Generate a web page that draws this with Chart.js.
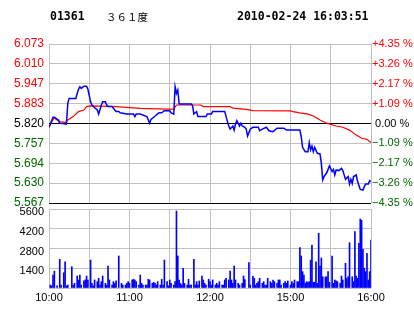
<!DOCTYPE html>
<html>
<head>
<meta charset="utf-8">
<script src="https://cdn.jsdelivr.net/npm/chart.js@4.4.0/dist/chart.umd.min.js"></script>
<style>
  html, body { margin: 0; padding: 0; background: #fff; }
  #wrap { position: relative; width: 414px; height: 314px; overflow: hidden; background: #fff; }
  canvas { position: absolute; left: 0; top: 0; }
  .t { position: absolute; top: 9px; line-height: 14px; white-space: pre; color: #000; }
  .mono { font-family: "DejaVu Sans Mono", monospace; font-weight: bold; font-size: 11.5px; }
  .cjk { font-family: "Noto Sans CJK SC", sans-serif; font-size: 10.5px; top: 10px; }
</style>
</head>
<body>
<div id="wrap">
  <canvas id="vol" width="414" height="314"></canvas>
  <canvas id="price" width="414" height="314"></canvas>
  <div class="t mono" id="code" style="left:50px"></div>
  <div class="t cjk" id="name" style="left:106px"></div>
  <div class="t mono" id="stamp" style="left:237px"></div>
</div>
<script>
// ---- header texts ----
const stockCode = '01361';
const stockName = '３６１度';
const timeStamp = '2010-02-24 16:03:51';

// ---- price series (minute index from 10:00, trading minutes) ----
const priceMinutes = [0,3,4,7,8,13,14,15,20,21,22,23,24,26,28,29,31,32,33,36,37,39,40,42,43,44,47,49,50,52,53,58,63,64,65,68,73,75,76,78,80,82,84,86,90,91,93,94,95,96,97,106,107,108,110,111,117,118,121,122,131,132,133,134,135,137,138,139,140,142,143,144,146,147,148,150,152,156,157,159,162,164,167,170,175,177,187,188,189,191,193,194,195,196,197,198,200,202,203,204,205,207,209,211,212,213,214,216,218,219,221,223,224,225,226,227,229,230,232,234,235,236,238,239,240];
const prices = [5.808,5.840,5.840,5.831,5.821,5.818,5.884,5.900,5.900,5.916,5.929,5.937,5.932,5.939,5.939,5.929,5.889,5.879,5.874,5.863,5.850,5.879,5.889,5.889,5.879,5.874,5.874,5.863,5.858,5.858,5.854,5.850,5.850,5.842,5.850,5.850,5.842,5.821,5.833,5.840,5.847,5.854,5.854,5.861,5.861,5.854,5.850,5.937,5.916,5.927,5.882,5.882,5.877,5.850,5.858,5.842,5.842,5.850,5.850,5.858,5.858,5.842,5.826,5.812,5.802,5.812,5.799,5.818,5.829,5.812,5.821,5.812,5.808,5.802,5.780,5.802,5.808,5.808,5.797,5.802,5.808,5.797,5.794,5.805,5.805,5.799,5.799,5.778,5.744,5.730,5.730,5.759,5.736,5.748,5.730,5.744,5.725,5.723,5.693,5.640,5.651,5.663,5.685,5.667,5.674,5.656,5.672,5.670,5.677,5.670,5.642,5.651,5.627,5.642,5.629,5.651,5.656,5.635,5.610,5.608,5.619,5.627,5.627,5.638,5.635];

// ---- average price series ----
const avgMinutes = [0,3,4,8,12,14,18,22,26,28,31,50,68,88,93,95,113,115,135,137,147,152,180,182,187,193,197,202,207,214,219,224,229,233,237,240];
const avgPrices = [5.808,5.833,5.837,5.826,5.823,5.831,5.842,5.858,5.863,5.874,5.876,5.874,5.868,5.866,5.866,5.879,5.879,5.874,5.874,5.869,5.865,5.861,5.860,5.858,5.854,5.850,5.844,5.831,5.821,5.812,5.808,5.799,5.783,5.773,5.770,5.759];

// ---- volume series ----
const volMinutes = [1,2,3,4,6,8,9,11,12,13,14,17,18,19,21,22,23,24,26,27,28,29,31,32,33,34,36,37,38,39,40,42,43,44,45,47,48,49,50,52,54,55,57,58,59,60,62,63,64,65,67,68,69,70,72,73,74,75,77,78,79,80,81,83,84,85,86,88,89,90,91,93,94,95,96,97,98,99,100,101,103,104,105,106,108,109,110,111,112,114,115,116,117,119,120,121,122,124,125,126,127,129,130,131,132,134,135,136,137,138,139,141,142,144,145,146,149,150,152,153,154,155,156,157,159,160,161,162,163,165,166,167,168,170,171,172,173,175,176,177,178,180,181,182,183,185,186,187,188,189,190,191,192,193,194,195,196,197,198,199,200,201,202,203,204,206,207,208,209,211,212,213,214,215,217,218,219,221,222,223,224,226,227,228,229,230,231,232,233,234,235,236,237,238,239,240];
const volumes = [210,150,920,1200,150,2030,210,1080,1860,150,210,1510,210,330,850,570,920,210,500,570,850,570,1980,330,150,570,450,690,210,450,850,330,210,1560,570,210,450,330,500,2270,330,210,210,330,450,330,570,620,570,450,210,920,330,210,210,210,620,570,330,400,330,210,450,210,620,210,1980,450,150,570,330,210,450,5460,2270,570,330,210,1400,330,210,620,210,210,2030,210,450,210,500,850,570,330,210,620,450,210,570,210,330,210,450,210,210,570,690,570,1200,570,330,1560,570,330,210,330,850,600,1800,210,850,690,210,330,450,690,330,450,210,210,690,450,330,570,450,330,570,570,210,330,450,330,500,210,450,330,570,450,450,2860,2270,1160,920,330,450,400,450,1980,3050,400,400,1860,330,3880,1560,2130,800,780,800,1160,400,2270,330,570,500,450,330,850,570,1750,690,800,3210,800,450,4000,850,690,3170,4890,4800,2740,1400,1160,2460,570,1160,3400];

// ---- axis tick labels ----
const prevClose = 5.82;
const priceTickValues = [6.0732,6.0099,5.9466,5.8833,5.82,5.7567,5.6934,5.6301,5.5668];
const priceTickLabels = ['6.073','6.010','5.947','5.883','5.820','5.757','5.694','5.630','5.567'];
const pctTickValues = [4.35,3.2625,2.175,1.0875,0,-1.0875,-2.175,-3.2625,-4.35];
const pctTickLabels = ['+4.35 %','+3.26 %','+2.17 %','+1.09 %',' 0.00 %','\u22121.09 %','\u22122.17 %','\u22123.26 %','\u22124.35 %'];
const volTickValues = [0,1400,2800,4200,5600];
const volTickLabels = ['','1400','2800','4200','5600'];
const timeTickValues = [0,30,60,90,120,150,180,210,240];
const timeTickLabels = ['10:00','','11:00','','12:00','','15:00','','16:00'];

document.getElementById('code').textContent = stockCode;
document.getElementById('name').textContent = stockName;
document.getElementById('stamp').textContent = timeStamp;

const RED = '#ff0000', GREEN = '#006600', BLACK = '#000000', GRID = '#c0c0c0';
const sideColor = (i) => i < 4 ? RED : (i === 4 ? BLACK : GREEN);

const fixTicks = (vals) => (scale) => { scale.ticks = vals.map(v => ({ value: v })); };

new Chart(document.getElementById('price'), {
  type: 'line',
  data: {
    datasets: [
      { data: avgMinutes.map((m, i) => ({ x: m, y: avgPrices[i] })), borderColor: RED, borderWidth: 1.2, pointRadius: 0, tension: 0, yAxisID: 'y', order: 2 },
      { data: priceMinutes.map((m, i) => ({ x: m, y: prices[i] })), borderColor: '#0000ff', borderWidth: 1.5, pointRadius: 0, tension: 0, yAxisID: 'y', order: 1 }
    ]
  },
  options: {
    responsive: false, animation: false, devicePixelRatio: 1,
    layout: { padding: { top: 44, bottom: 111, left: 0, right: 0 } },
    plugins: { legend: { display: false }, tooltip: { enabled: false } },
    scales: {
      x: {
        type: 'linear', min: 0, max: 240, offset: false,
        afterBuildTicks: fixTicks(timeTickValues),
        afterFit: (s) => { s.height = 0; },
        ticks: { display: false },
        grid: { color: GRID, drawTicks: false, offset: false },
        border: { display: false }
      },
      y: {
        position: 'left', min: priceTickValues[8], max: priceTickValues[0],
        afterBuildTicks: fixTicks(priceTickValues),
        afterFit: (s) => { s.width = 49; },
        ticks: {
          padding: 5,
          font: { family: '"Liberation Sans", Arial, sans-serif', size: 12 },
          color: (c) => sideColor(c.index),
          callback: (v, i) => priceTickLabels[i]
        },
        grid: {
          drawTicks: false,
          color: (c) => (c.tick && (Math.abs(c.tick.value - prevClose) < 1e-6 || Math.abs(c.tick.value - priceTickValues[8]) < 1e-6)) ? BLACK : GRID
        },
        border: { display: false }
      },
      y1: {
        position: 'right', min: -4.35, max: 4.35,
        afterBuildTicks: fixTicks(pctTickValues),
        afterFit: (s) => { s.width = 43; },
        ticks: {
          padding: 1,
          font: { family: '"Liberation Sans", Arial, sans-serif', size: 11 },
          color: (c) => sideColor(c.index),
          callback: (v, i) => pctTickLabels[i]
        },
        grid: { display: false, drawTicks: false },
        border: { display: false }
      }
    }
  }
});

new Chart(document.getElementById('vol'), {
  type: 'bar',
  data: {
    datasets: [
      { data: volMinutes.map((m, i) => ({ x: m, y: volumes[i] })), backgroundColor: '#0000ff', barThickness: 1, grouped: false, borderWidth: 0 }
    ]
  },
  options: {
    responsive: false, animation: false, devicePixelRatio: 1,
    layout: { padding: { top: 209, bottom: 0, left: 0, right: 43 } },
    plugins: { legend: { display: false }, tooltip: { enabled: false } },
    scales: {
      x: {
        type: 'linear', min: 0, max: 240, offset: false,
        afterBuildTicks: fixTicks(timeTickValues),
        afterFit: (s) => { s.height = 26; },
        ticks: {
          padding: 3, maxRotation: 0, autoSkip: false,
          font: { family: '"Liberation Sans", Arial, sans-serif', size: 11 },
          color: BLACK,
          callback: (v, i) => timeTickLabels[i]
        },
        grid: { color: GRID, drawTicks: false, offset: false },
        border: { display: false }
      },
      y: {
        position: 'left', min: 0, max: 5600,
        afterBuildTicks: fixTicks(volTickValues),
        afterFit: (s) => { s.width = 49; },
        ticks: {
          padding: 5, labelOffset: 3,
          font: { family: '"Liberation Sans", Arial, sans-serif', size: 11 },
          color: BLACK,
          callback: (v, i) => volTickLabels[i]
        },
        grid: { color: GRID, drawTicks: false },
        border: { display: false }
      }
    }
  }
});
</script>
</body>
</html>
